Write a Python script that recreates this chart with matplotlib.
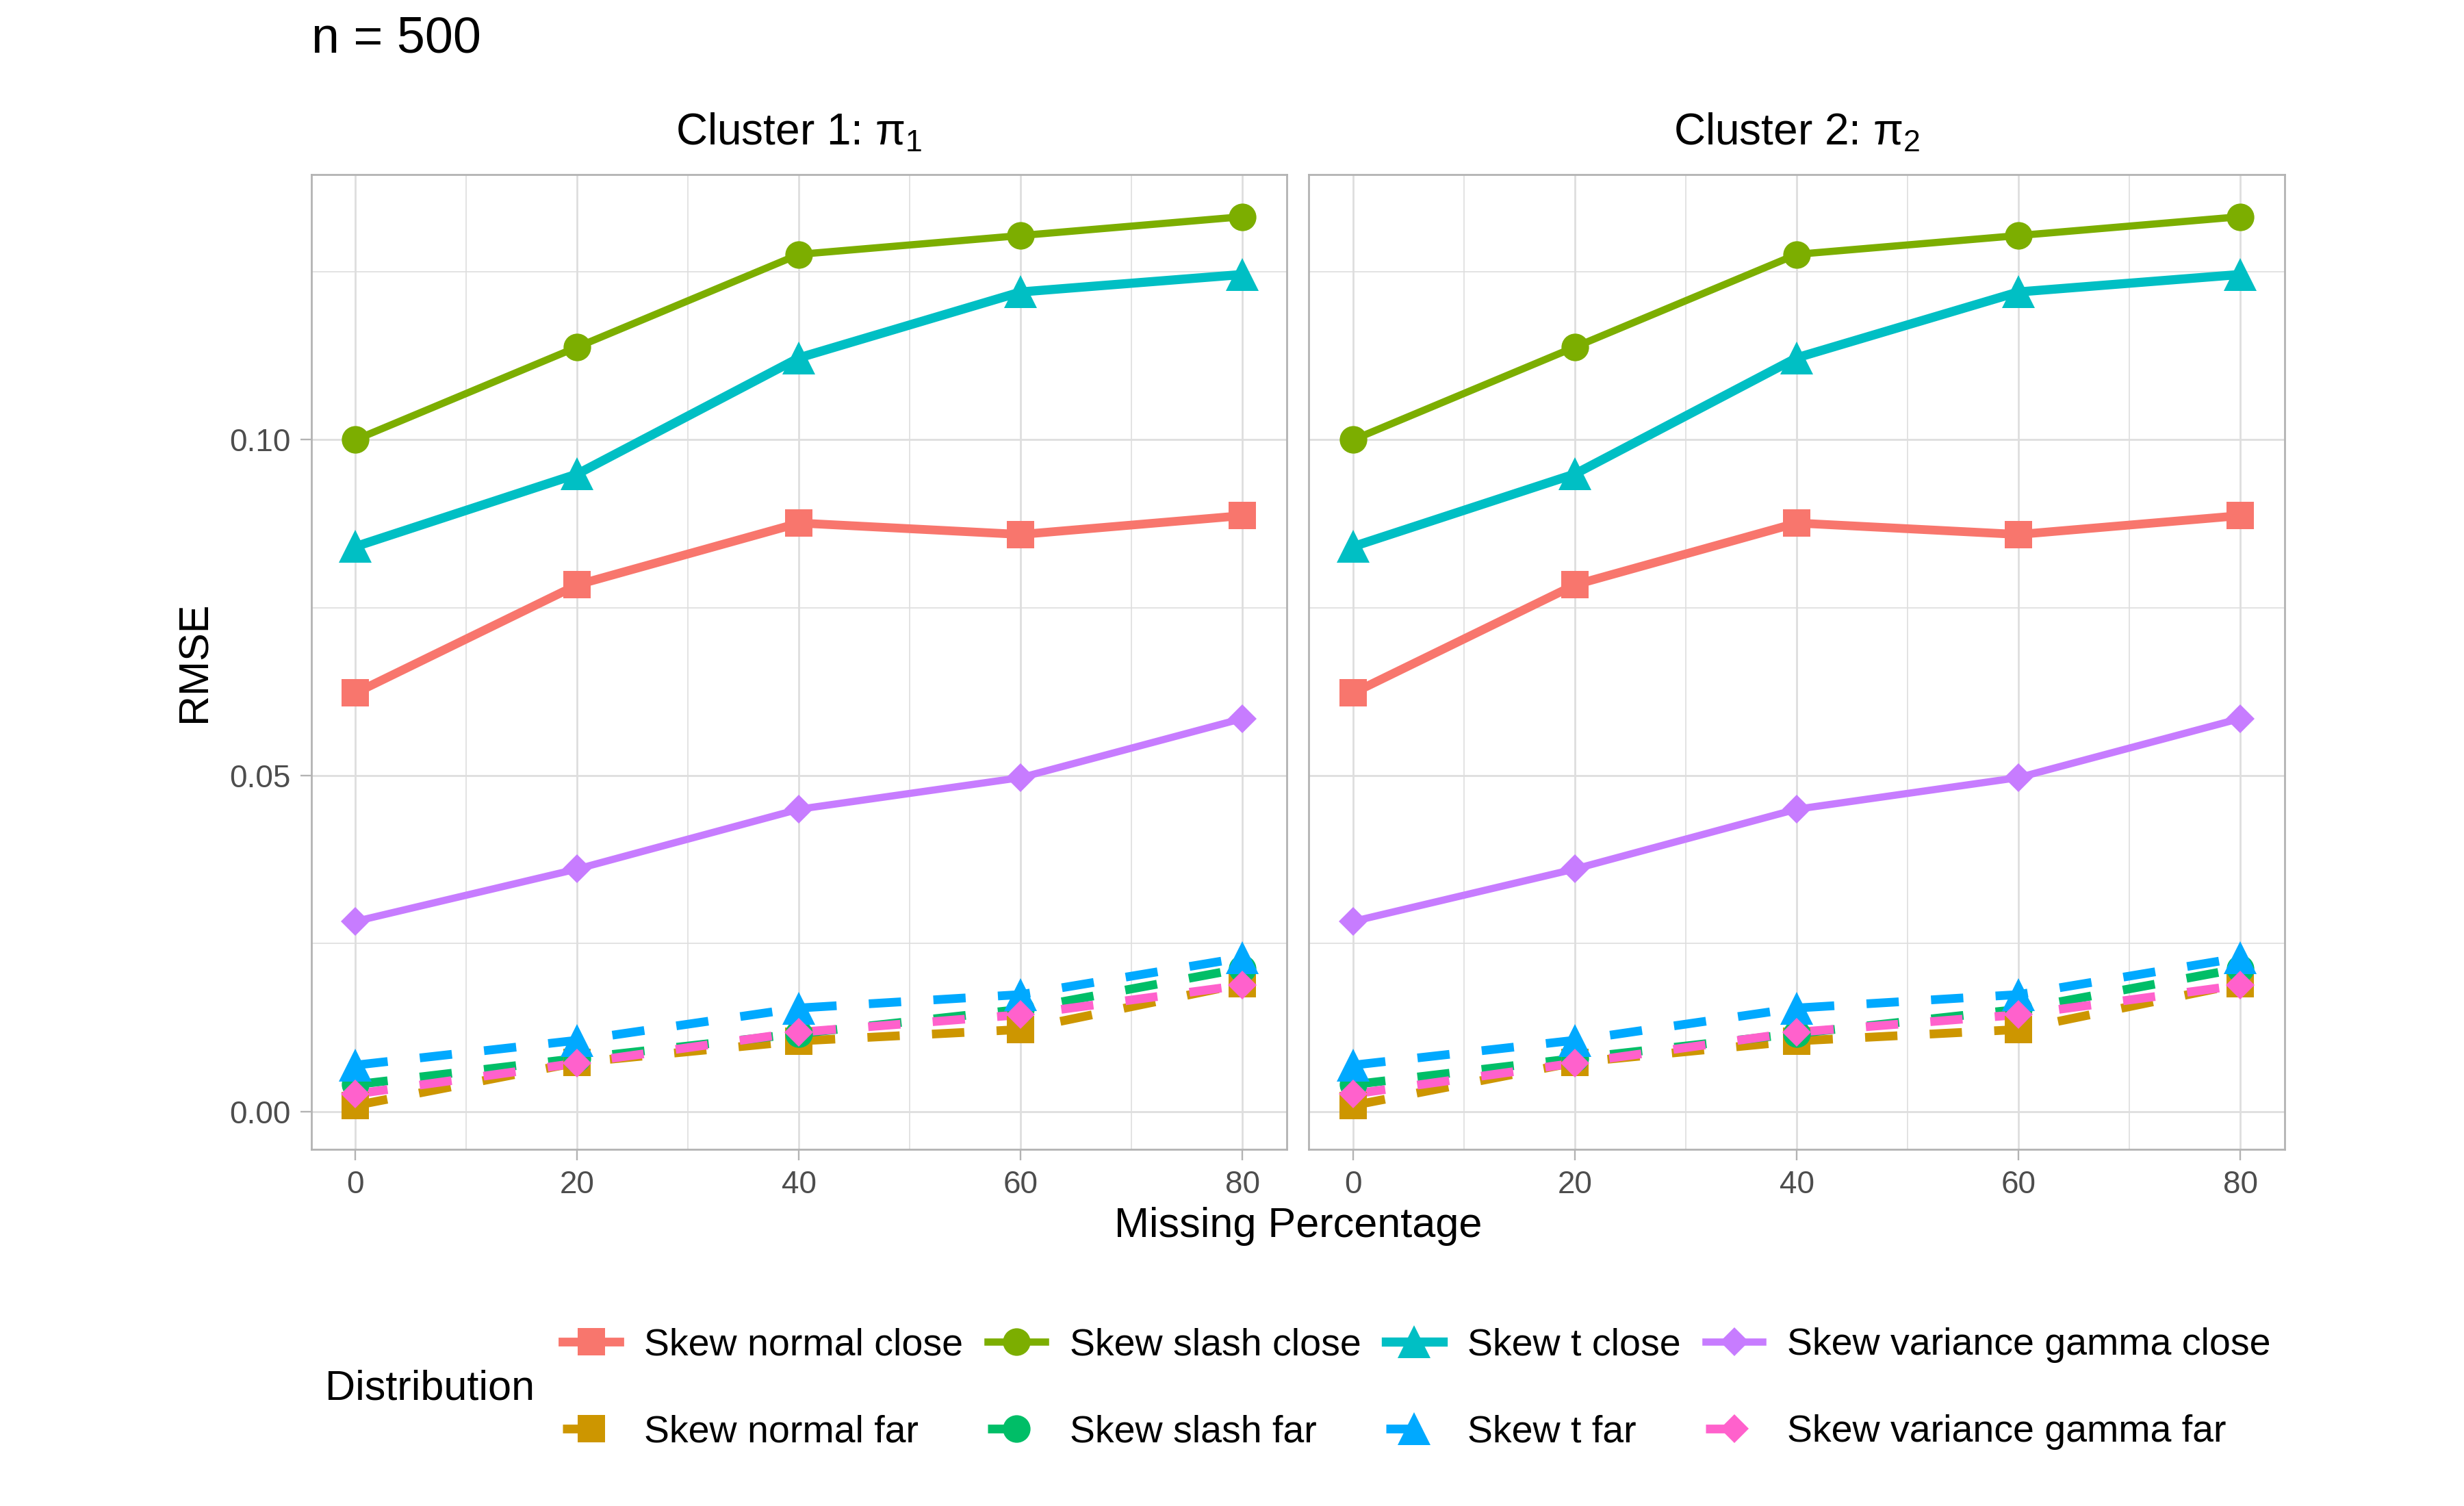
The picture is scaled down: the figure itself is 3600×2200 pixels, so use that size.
import matplotlib
matplotlib.use('Agg')
import matplotlib.pyplot as plt
from matplotlib.lines import Line2D

plt.rcParams['font.family'] = ['Liberation Sans', 'DejaVu Sans']
plt.rcParams['mathtext.fontset'] = 'custom'
plt.rcParams['mathtext.rm'] = 'Liberation Sans'
plt.rcParams['mathtext.it'] = 'Liberation Sans'

# data (same values in both panels)
missing = [0, 20, 40, 60, 80]
series_names = ['Skew normal close', 'Skew normal far', 'Skew slash close', 'Skew slash far',
                'Skew t close', 'Skew t far', 'Skew variance gamma close', 'Skew variance gamma far']
normal_close = [0.0623, 0.0784, 0.0876, 0.0859, 0.0887]
normal_far = [0.0009, 0.0073, 0.0105, 0.0122, 0.0190]
slash_close = [0.1000, 0.1138, 0.1276, 0.1304, 0.1332]
slash_far = [0.0040, 0.0079, 0.0116, 0.0152, 0.0213]
t_close = [0.0841, 0.0949, 0.1122, 0.1220, 0.1246]
t_far = [0.0069, 0.0106, 0.0154, 0.0174, 0.0229]
svg_close = [0.0283, 0.0361, 0.0450, 0.0497, 0.0585]
svg_far = [0.0026, 0.0072, 0.0118, 0.0144, 0.0188]
values = [normal_close, normal_far, slash_close, slash_far, t_close, t_far, svg_close, svg_far]
panel_titles = [r'Cluster 1: $\mathrm{\pi}_1$', r'Cluster 2: $\mathrm{\pi}_2$']

colors = ['#F8766D', '#CD9600', '#7CAE00', '#00BE67', '#00BFC4', '#00A9FF', '#C77CFF', '#FF61CC']
markers = ['s', 's', 'o', 'o', '^', '^', 'D', 'D']
msizes = [14.5, 14.5, 14.5, 14.5, 17.5, 17.5, 10.5, 10.5]
lwidths = [4.6, 4.6, 3.8, 4.6, 4.8, 4.6, 3.8, 4.6]
dashed = [False, True, False, True, False, True, False, True]

fig = plt.figure(figsize=(18, 11), dpi=200)
axes = [fig.add_axes([0.1263, 0.237, 0.396, 0.6472]),
        fig.add_axes([0.5312, 0.237, 0.396, 0.6472])]

for ax, ttl in zip(axes, panel_titles):
    for i in range(len(series_names)):
        ls = (0, (17.0 / lwidths[i], 17.0 / lwidths[i])) if dashed[i] else '-'
        ax.plot(missing, values[i], color=colors[i], lw=lwidths[i], linestyle=ls,
                zorder=2, solid_capstyle='butt', dash_capstyle='butt')
    for i in range(len(series_names)):
        ax.plot(missing, values[i], color=colors[i], linestyle='none', marker=markers[i],
                markersize=msizes[i], markeredgewidth=0, zorder=3 + i * 0.01)
    ax.set_xlim(-4, 84)
    ax.set_ylim(-0.0056, 0.1395)
    ax.set_xticks([0, 20, 40, 60, 80])
    ax.set_xticks([10, 30, 50, 70], minor=True)
    ax.set_yticks([0.0, 0.05, 0.10])
    ax.set_yticks([0.025, 0.075, 0.125], minor=True)
    ax.set_yticklabels(['0.00', '0.05', '0.10'])
    ax.grid(which='major', color='#DEDEDE', lw=1.0, zorder=0)
    ax.grid(which='minor', color='#DEDEDE', lw=0.6, zorder=0)
    ax.set_axisbelow(True)
    for s in ax.spines.values():
        s.set_color('#B3B3B3')
        s.set_linewidth(1.0)
    ax.tick_params(which='major', length=5.8, width=0.85, color='#B3B3B3',
                   labelsize=16.5, labelcolor='#4D4D4D', pad=5)
    ax.tick_params(which='minor', length=0)
    ax.set_title(ttl, fontsize=23, pad=15.5)

axes[1].tick_params(axis='y', labelleft=False, length=0)
axes[0].set_ylabel('RMSE', fontsize=22, labelpad=8)

fig.text(0.1263, 0.974, 'n = 500', fontsize=26.5, ha='left', va='center')
fig.text(0.5268, 0.1858, 'Missing Percentage', fontsize=22, ha='center', va='center')

handles = []
for i in range(len(series_names)):
    ls = (0, (17.0 / lwidths[i], 17.0 / lwidths[i])) if dashed[i] else '-'
    handles.append(Line2D([], [], color=colors[i], lw=lwidths[i], linestyle=ls,
                          marker=markers[i], markersize=msizes[i], markeredgewidth=0))
fig.legend(handles, series_names, loc='center left', bbox_to_anchor=(0.2283, 0.0778),
           ncol=4, frameon=False, fontsize=20, handlelength=1.5, handletextpad=0.65,
           columnspacing=0.65, labelspacing=1.35, borderpad=0, borderaxespad=0)
fig.text(0.132, 0.0778, 'Distribution', fontsize=22, ha='left', va='center')

plt.savefig('out.png', dpi=200)
